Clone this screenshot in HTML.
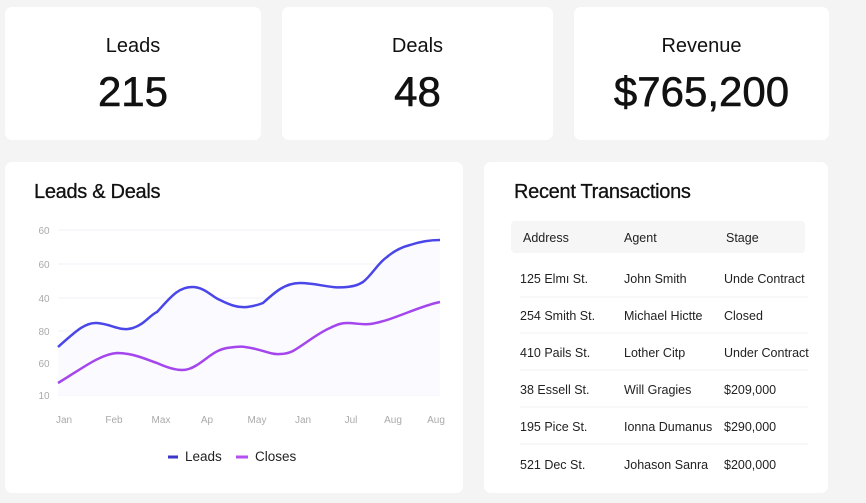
<!DOCTYPE html><html><head><style>
body{margin:0;width:866px;height:503px;background:#f4f4f4;font-family:"Liberation Sans",sans-serif;position:relative;overflow:hidden;color:#111}
.c{position:absolute;background:#fff;border-radius:7px}
.k{text-align:center}
.k .t{font-size:20px;margin-top:28px}
.k .v{font-size:42px;margin-top:10px;letter-spacing:0px;-webkit-text-stroke:0.6px #111}
.h{position:absolute;font-size:20px;font-weight:normal;letter-spacing:-0.3px;-webkit-text-stroke:0.3px #111}
</style></head><body>
<div class="c k" style="left:5px;top:7px;width:256px;height:133px"><div class="t">Leads</div><div class="v">215</div></div>
<div class="c k" style="left:282px;top:7px;width:271px;height:133px"><div class="t">Deals</div><div class="v">48</div></div>
<div class="c k" style="left:574px;top:7px;width:255px;height:133px"><div class="t">Revenue</div><div class="v">$765,200</div></div>
<div class="c" style="left:5px;top:162px;width:458px;height:331px"></div>
<div class="c" style="left:484px;top:162px;width:344px;height:331px"></div>
<div class="h" style="left:34px;top:181px">Leads &amp; Deals</div>
<div class="h" style="left:514px;top:181px">Recent Transactions</div>
<svg style="position:absolute;left:0;top:0" width="866" height="503" font-family="Liberation Sans" font-size="10" fill="#aaa">
<g stroke="#f2f2f8" stroke-width="1">
<line x1="58" x2="440" y1="230" y2="230"/><line x1="58" x2="440" y1="264" y2="264"/><line x1="58" x2="440" y1="298" y2="298"/><line x1="58" x2="440" y1="331" y2="331"/><line x1="58" x2="440" y1="363" y2="363"/><line x1="58" x2="440" y1="395" y2="395"/></g>
<g text-anchor="middle"><text x="44" y="234">60</text><text x="44" y="268">60</text><text x="44" y="302">40</text><text x="44" y="335">80</text><text x="44" y="367">60</text><text x="44" y="399">10</text>
<text x="64" y="423">Jan</text><text x="114" y="423">Feb</text><text x="161" y="423">Max</text><text x="207" y="423">Ap</text><text x="257" y="423">May</text><text x="303" y="423">Jan</text><text x="351" y="423">Jul</text><text x="393" y="423">Aug</text><text x="436" y="423">Aug</text></g>
<path d="M58,347 C75,332 85,322 97,323 C112,324 120,332 133,328 C145,324 150,315 157,312 C170,298 178,287 192,287 C205,287 212,297 220,300 C230,305 238,308 247,307 C255,306 258,305 263,303 C275,292 285,283 300,283 C318,283 330,289 347,287 C355,286 358,285 363,282 C372,275 378,263 387,257 C395,250 402,247 410,245 C422,241 432,240 440,240 L440,395 L58,395Z" fill="#fafaff"/>
<path d="M58,347 C75,332 85,322 97,323 C112,324 120,332 133,328 C145,324 150,315 157,312 C170,298 178,287 192,287 C205,287 212,297 220,300 C230,305 238,308 247,307 C255,306 258,305 263,303 C275,292 285,283 300,283 C318,283 330,289 347,287 C355,286 358,285 363,282 C372,275 378,263 387,257 C395,250 402,247 410,245 C422,241 432,240 440,240" fill="none" stroke="#4a46e8" stroke-width="2.5"/>
<path d="M58,383 C80,370 100,354 117,353 C125,353 128,354 133,355 C145,358 150,361 157,363 C168,368 175,370 182,370 C188,370 192,368 197,365 C208,358 215,350 227,348 C235,347 240,346 245,347 C262,349 270,355 280,354 C285,354 289,353 293,351 C305,344 318,333 330,328 C338,324 342,323 347,323 C356,323 362,325 370,324 C378,323 384,321 390,319 C410,312 425,305 440,302" fill="none" stroke="#a445ee" stroke-width="2.5"/>
<line x1="168" x2="178" y1="457" y2="457" stroke="#3a36c8" stroke-width="3"/>
<line x1="236" x2="248" y1="457" y2="457" stroke="#b54ef0" stroke-width="3"/>
<g fill="#222" font-size="13.5"><text x="185" y="461">Leads</text><text x="255" y="461">Closes</text></g>
<rect x="511" y="221" width="294" height="32" rx="4" fill="#f6f6f6"/>
<g stroke="#f0f0f0"><line x1="520" x2="808" y1="297" y2="297"/><line x1="520" x2="808" y1="333" y2="333"/><line x1="520" x2="808" y1="370" y2="370"/><line x1="520" x2="808" y1="407" y2="407"/><line x1="520" x2="808" y1="444" y2="444"/></g>
<g fill="#222" font-size="12.5">
<text x="523" y="242">Address</text><text x="624" y="242">Agent</text><text x="726" y="242">Stage</text>
<text x="520" y="283">125 Elmı St.</text><text x="624" y="283">John Smith</text><text x="724" y="283">Unde Contract</text>
<text x="520" y="320">254 Smith St.</text><text x="624" y="320">Michael Hictte</text><text x="724" y="320">Closed</text>
<text x="520" y="357">410 Pails St.</text><text x="624" y="357">Lother Citp</text><text x="724" y="357">Under Contract</text>
<text x="520" y="394">38 Essell St.</text><text x="624" y="394">Will Gragies</text><text x="724" y="394">$209,000</text>
<text x="520" y="431">195 Pice St.</text><text x="624" y="431">Ionna Dumanus</text><text x="724" y="431">$290,000</text>
<text x="520" y="469">521 Dec St.</text><text x="624" y="469">Johason Sanra</text><text x="724" y="469">$200,000</text></g>
</svg>
</body></html>
